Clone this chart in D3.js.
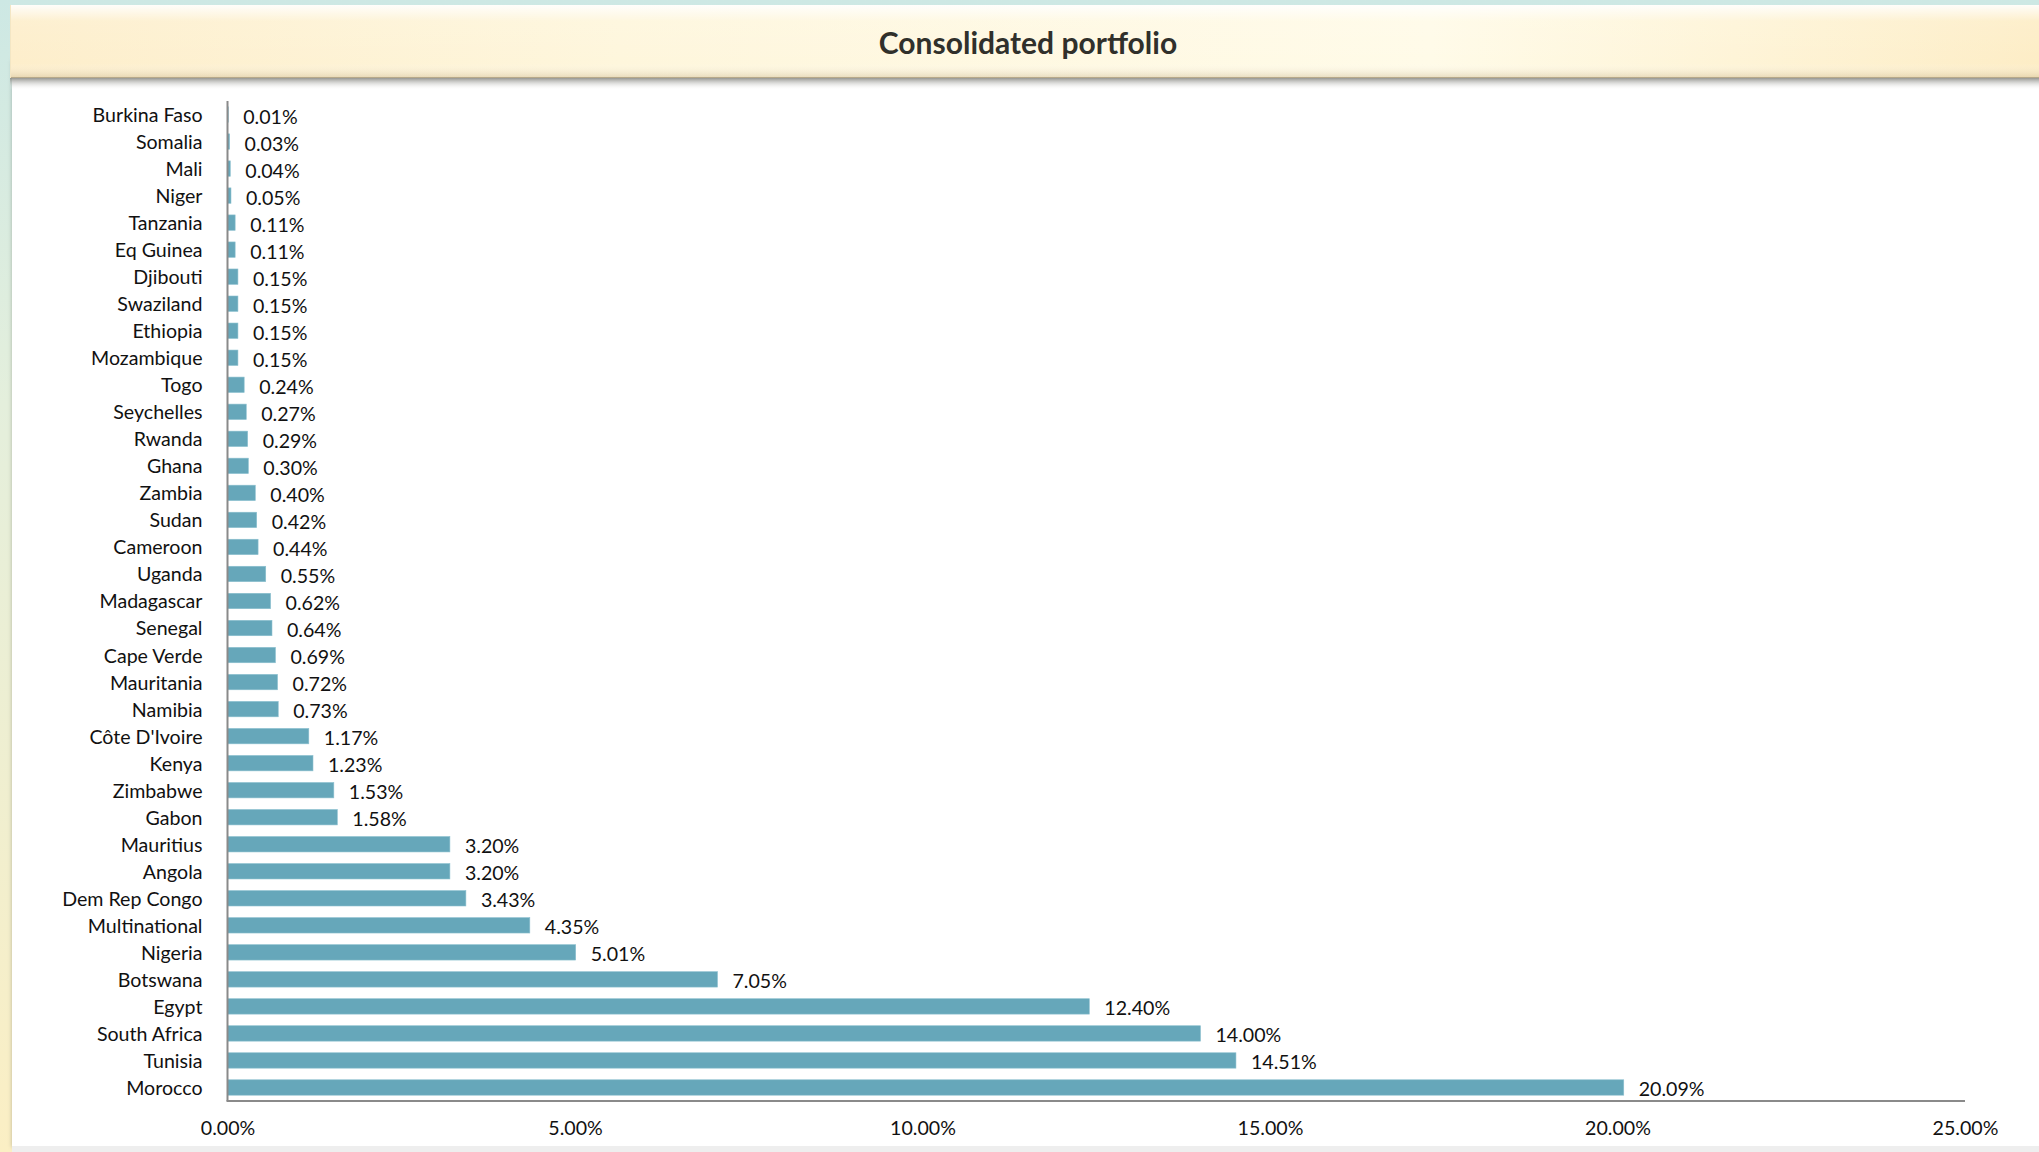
<!DOCTYPE html>
<html>
<head>
<meta charset="utf-8">
<script src="https://cdn.jsdelivr.net/npm/d3@7"></script>
<style>
  html, body { margin: 0; padding: 0; background: #fff; }
  svg { display: block; }
</style>
</head>
<body>
<svg id="chart" width="2039" height="1152"></svg>
<script>
// Portfolio share by country (percent of consolidated portfolio)
const countries = [
  "Burkina Faso", "Somalia", "Mali", "Niger", "Tanzania", "Eq Guinea", "Djibouti",
  "Swaziland", "Ethiopia", "Mozambique", "Togo", "Seychelles", "Rwanda", "Ghana",
  "Zambia", "Sudan", "Cameroon", "Uganda", "Madagascar", "Senegal", "Cape Verde",
  "Mauritania", "Namibia", "Côte D'Ivoire", "Kenya", "Zimbabwe", "Gabon",
  "Mauritius", "Angola", "Dem Rep Congo", "Multinational", "Nigeria", "Botswana",
  "Egypt", "South Africa", "Tunisia", "Morocco"
];
const shares = [
  0.01, 0.03, 0.04, 0.05, 0.11, 0.11, 0.15,
  0.15, 0.15, 0.15, 0.24, 0.27, 0.29, 0.30,
  0.40, 0.42, 0.44, 0.55, 0.62, 0.64, 0.69,
  0.72, 0.73, 1.17, 1.23, 1.53, 1.58,
  3.20, 3.20, 3.43, 4.35, 5.01, 7.05,
  12.40, 14.00, 14.51, 20.09
];
const xTicks = [0, 5, 10, 15, 20, 25];
const title = "Consolidated portfolio";

const rows = countries.map((c, i) => ({ country: c, value: shares[i] }));

const W = 2039, H = 1152;
const svg = d3.select("#chart");
const defs = svg.append("defs");

// page background: soft teal fading to cream
const bg = defs.append("linearGradient").attr("id", "bgGrad")
  .attr("x1", 0).attr("y1", 0).attr("x2", 0).attr("y2", 1);
bg.append("stop").attr("offset", "0%").attr("stop-color", "#cde8e4");
bg.append("stop").attr("offset", "35%").attr("stop-color", "#e4efdc");
bg.append("stop").attr("offset", "100%").attr("stop-color", "#fbefc4");
svg.append("rect").attr("width", W).attr("height", H).attr("fill", "url(#bgGrad)");

// white chart panel with a faint shadow
const shadow = defs.append("filter").attr("id", "panelShadow")
  .attr("x", "-5%").attr("y", "-5%").attr("width", "110%").attr("height", "110%");
shadow.append("feDropShadow").attr("dx", 0).attr("dy", 1).attr("stdDeviation", 2)
  .attr("flood-color", "#000").attr("flood-opacity", 0.25);
svg.append("rect").attr("x", 12).attr("y", 60).attr("width", W - 12).attr("height", 1086)
  .attr("fill", "#ffffff").attr("filter", "url(#panelShadow)");
svg.append("rect").attr("x", 12).attr("y", 1146).attr("width", W - 12).attr("height", 6)
  .attr("fill", "#eeeeee");

// header banner
const hdr = defs.append("linearGradient").attr("id", "hdrGrad")
  .attr("x1", 0).attr("y1", 0).attr("x2", 1).attr("y2", 0);
hdr.append("stop").attr("offset", "0%").attr("stop-color", "#fdeecb");
hdr.append("stop").attr("offset", "30%").attr("stop-color", "#fef6dc");
hdr.append("stop").attr("offset", "70%").attr("stop-color", "#fffbe8");
hdr.append("stop").attr("offset", "100%").attr("stop-color", "#fdedc6");
const hdrV = defs.append("linearGradient").attr("id", "hdrShade")
  .attr("x1", 0).attr("y1", 0).attr("x2", 0).attr("y2", 1);
hdrV.append("stop").attr("offset", "0%").attr("stop-color", "#ffffff").attr("stop-opacity", 0.9);
hdrV.append("stop").attr("offset", "22%").attr("stop-color", "#ffffff").attr("stop-opacity", 0.1);
hdrV.append("stop").attr("offset", "80%").attr("stop-color", "#ffffff").attr("stop-opacity", 0);
hdrV.append("stop").attr("offset", "100%").attr("stop-color", "#c9b48a").attr("stop-opacity", 0.45);
const hdrShadow = defs.append("linearGradient").attr("id", "hdrDrop")
  .attr("x1", 0).attr("y1", 0).attr("x2", 0).attr("y2", 1);
hdrShadow.append("stop").attr("offset", "0%").attr("stop-color", "#8a8a84").attr("stop-opacity", 0.9);
hdrShadow.append("stop").attr("offset", "100%").attr("stop-color", "#ffffff").attr("stop-opacity", 0);

svg.append("rect").attr("x", 10).attr("y", 78).attr("width", W - 10).attr("height", 12)
  .attr("fill", "url(#hdrDrop)");
svg.append("rect").attr("x", 10).attr("y", 5).attr("width", W - 10).attr("height", 73)
  .attr("fill", "url(#hdrGrad)");
svg.append("rect").attr("x", 10).attr("y", 5).attr("width", W - 10).attr("height", 73)
  .attr("fill", "url(#hdrShade)");
svg.append("line").attr("x1", 10).attr("x2", W).attr("y1", 77.5).attr("y2", 77.5)
  .attr("stroke", "#b7a98a").attr("stroke-width", 1);
svg.append("line").attr("x1", 10.5).attr("x2", 10.5).attr("y1", 5).attr("y2", 78)
  .attr("stroke", "#f3e6c4").attr("stroke-width", 1);

svg.append("text")
  .attr("x", 1028).attr("y", 42)
  .attr("text-anchor", "middle").attr("dominant-baseline", "central")
  .attr("font-family", "Lato, 'Open Sans', sans-serif")
  .attr("font-weight", 700).attr("font-size", 30)
  .attr("fill", "#30302b")
  .text(title);

// plot area
const plotLeft = 227.5, plotRight = 1965, plotTop = 101, plotBottom = 1101;
const x = d3.scaleLinear().domain([0, 25]).range([plotLeft, plotRight]);
const y = d3.scaleBand().domain(countries).range([plotTop, plotBottom])
  .paddingInner(0.43).paddingOuter(0.215);

const font = "Lato, 'Open Sans', sans-serif";
const labelSize = 19.6;
const g = svg.append("g");

g.selectAll("rect.bar").data(rows).enter().append("rect")
  .attr("class", "bar")
  .attr("x", x(0))
  .attr("y", d => y(d.country))
  .attr("width", d => Math.max(0.8, x(d.value) - x(0)))
  .attr("height", y.bandwidth())
  .attr("fill", "#66a7ba")
  .attr("stroke", "#8cc0cf").attr("stroke-width", 0.6);

g.selectAll("text.val").data(rows).enter().append("text")
  .attr("class", "val")
  .attr("x", d => x(d.value) + 15)
  .attr("y", d => y(d.country) + y.bandwidth() / 2 + 1.5)
  .attr("dominant-baseline", "central")
  .attr("font-family", font).attr("font-size", labelSize).attr("fill", "#111")
  .text(d => d.value.toFixed(2) + "%");

// category axis
const yAxis = d3.axisLeft(y).tickSize(0).tickPadding(25);
const ya = svg.append("g").attr("transform", `translate(${plotLeft},0)`).call(yAxis);
ya.select(".domain").attr("stroke", "#8a8a8a").attr("stroke-width", 2)
  .attr("d", `M0,${plotTop}V${plotBottom}`);
ya.selectAll("text").attr("font-family", font).attr("font-size", labelSize).attr("fill", "#111")
  .attr("dy", "0.38em");

// value axis
const xAxis = d3.axisBottom(x).tickValues(xTicks).tickSize(0).tickPadding(20)
  .tickFormat(d => d.toFixed(2) + "%");
const xa = svg.append("g").attr("transform", `translate(0,${plotBottom})`).call(xAxis);
xa.select(".domain").attr("stroke", "#8a8a8a").attr("stroke-width", 2)
  .attr("d", `M${plotLeft - 1},0H${plotRight}`);
xa.selectAll("text").attr("font-family", font).attr("font-size", labelSize).attr("fill", "#111");
</script>
</body>
</html>
